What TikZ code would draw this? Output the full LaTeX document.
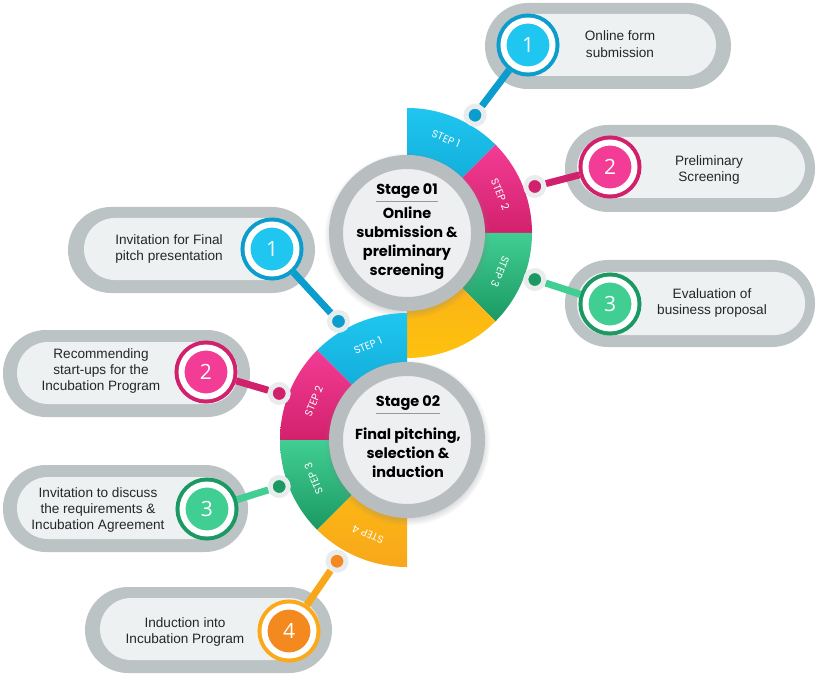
\documentclass[tikz,border=0pt]{standalone}
\usepackage{fontspec}
\setmainfont{Liberation Sans}
\newfontfamily\stagefont{Poppins}
\newfontfamily\numberfont{Open Sans}
\usetikzlibrary{calc}
\usetikzlibrary{shadows}
\usetikzlibrary{positioning}

\definecolor{cyanA}{HTML}{1FC6EF}
\definecolor{cyanB}{HTML}{0A9DCD}
\definecolor{pinkA}{HTML}{F33C95}
\definecolor{pinkB}{HTML}{D2216C}
\definecolor{greenA}{HTML}{41CE93}
\definecolor{greenB}{HTML}{1B9963}
\definecolor{yellowA}{HTML}{FEC20E}
\definecolor{yellowB}{HTML}{F8A71B}
\definecolor{orangeA}{HTML}{FBA91A}
\definecolor{orangeB}{HTML}{F4891F}
\definecolor{rimgray}{HTML}{BCC3C4}
\definecolor{facegray}{HTML}{EEF1F2}
\definecolor{discgray}{HTML}{EDEFF0}
\definecolor{ringgray}{HTML}{B8BEC0}
\definecolor{pinwhite}{HTML}{E9ECED}

\begin{document}
\begin{tikzpicture}[x=1pt,y=1pt,
    rim/.style={fill=rimgray,rounded corners=43pt},
    face/.style={fill=facegray,rounded corners=31pt},
    seg/.style 2 args={top color=#1,bottom color=#2},
    stagedisc/.style={circle,fill=discgray,draw=ringgray,line width=14pt,minimum size=142pt,inner sep=0pt,
      circular drop shadow={shadow scale=1.17,opacity=.45,shadow xshift=0pt,shadow yshift=-2pt}},
    stagehead/.style={font=\stagefont\bfseries\fontsize{14.5}{17}\selectfont,inner sep=0pt},
    stagebody/.style={font=\stagefont\bfseries\fontsize{14.5}{19}\selectfont,align=center,inner sep=0pt},
    headrule/.style={draw=gray!80,line width=0.8pt},
    steplbl/.style={font=\stagefont\fontsize{10.5}{12}\selectfont,text=white,inner sep=0pt},
    knob/.style={circle,fill=#1,draw=pinwhite,line width=5pt,minimum size=18pt,inner sep=0pt},
    badge/.style 2 args={circle,fill=#2,draw=white,line width=6pt,minimum size=49pt,inner sep=0pt,outer sep=7pt,
      preaction={draw=#1,line width=14pt},text=white,font=\numberfont\fontsize{21}{21}\selectfont},
    wire/.style={draw=#1,line width=7pt},
    steptext/.style={font=\fontsize{13.6}{16.3}\selectfont,align=center,text=black!85}]
  \useasboundingbox (0,0) rectangle (816,-676);
  \coordinate (s1) at (407,-233);
  \coordinate (s2) at (407,-440);

  % boxes of stage 01
  \fill[rim] (485,-3) rectangle (731,-89);
  \fill[face] (497,-14) rectangle (716,-76);
  \fill[rim] (565,-125) rectangle (815,-212);
  \fill[face] (577,-137) rectangle (805,-198);
  \fill[rim] (565,-260) rectangle (815,-347);
  \fill[face] (577,-272) rectangle (805,-335);

  % boxes of stage 02
  \fill[rim] (68,-207) rectangle (315,-293);
  \fill[face] (84,-218) rectangle (303,-280);
  \fill[rim] (3,-330) rectangle (250,-417);
  \fill[face] (17,-342) rectangle (238,-404);
  \fill[rim] (3,-465) rectangle (248,-552);
  \fill[face] (17,-477) rectangle (236,-539);
  \fill[rim] (85,-587) rectangle (332,-673);
  \fill[face] (100,-598) rectangle (320,-660);

  % ring of stage 01
  \path[seg={cyanA}{cyanB}] (s1) -- ++(90:125) arc[start angle=90,end angle=45,radius=125] -- cycle;
  \path[seg={pinkA}{pinkB}] (s1) -- ++(45:125) arc[start angle=45,end angle=0,radius=125] -- cycle;
  \path[seg={greenA}{greenB}] (s1) -- ++(0:125) arc[start angle=0,end angle=-45,radius=125] -- cycle;
  \path[seg={yellowB}{yellowA}] (s1) -- ++(-45:125) arc[start angle=-45,end angle=-90,radius=125] -- cycle;
  \node[steplbl,rotate=-22.5] (l11) at ([shift={(67.5:102)}]s1) {STEP 1};
  \node[steplbl,rotate=-67.5] (l12) at ([shift={(22.5:101)}]s1) {STEP 2};
  \node[steplbl,rotate=-112.5] (l13) at ([shift={(-22.5:101)}]s1) {STEP 3};
  \node[stagedisc] (c1) at (s1) {};
  \node[stagehead] (h1) at (407,-191) {Stage 01};
  \draw[headrule] ([yshift=-3pt]h1.south west) -- ([yshift=-3pt]h1.south east);
  \node[stagebody] (d1) at (407,-243) {Online\\submission \&\\preliminary\\screening};

  % ring of stage 02
  \path[seg={cyanA}{cyanB}] (s2) -- ++(90:127) arc[start angle=90,end angle=135,radius=127] -- cycle;
  \path[seg={pinkA}{pinkB}] (s2) -- ++(135:127) arc[start angle=135,end angle=180,radius=127] -- cycle;
  \path[seg={greenA}{greenB}] (s2) -- ++(180:127) arc[start angle=180,end angle=225,radius=127] -- cycle;
  \path[seg={yellowA}{yellowB}] (s2) -- ++(225:127) arc[start angle=225,end angle=270,radius=127] -- cycle;
  \node[steplbl,rotate=22.5] (l21) at ([shift={(112.5:102)}]s2) {STEP 1};
  \node[steplbl,rotate=67.5] (l22) at ([shift={(157.5:101)}]s2) {STEP 2};
  \node[steplbl,rotate=112.5] (l23) at ([shift={(202.5:101)}]s2) {STEP 3};
  \node[steplbl,rotate=157.5] (l24) at ([shift={(247.5:102)}]s2) {STEP 4};
  \node[stagedisc] (c2) at (s2) {};
  \node[stagehead] (h2) at (408,-403) {Stage 02};
  \draw[headrule] ([yshift=-3pt]h2.south west) -- ([yshift=-3pt]h2.south east);
  \node[stagebody] (d2) at (408,-453) {Final pitching,\\selection \&\\induction};

  % steps of stage 01
  \node[knob=cyanB] (p11) at ([shift={(60:136)}]s1) {};
  \node[knob=pinkB] (p12) at ([shift={(20:136)}]s1) {};
  \node[knob=greenB] (p13) at ([shift={(-20:136)}]s1) {};
  \node[badge={cyanB}{cyanA}] (b11) at (528,-45) {1};
  \node[badge={pinkB}{pinkA}] (b12) at (610,-167) {2};
  \node[badge={greenB}{greenA}] (b13) at (610,-304) {3};
  \draw[wire=cyanB] (p11) -- (b11);
  \draw[wire=pinkB] (p12) -- (b12);
  \draw[wire=greenA] (p13) -- (b13);
  \node[steptext] (t11) at (620,-44) {Online form\\submission};
  \node[steptext] (t12) at (709,-170) {Preliminary\\Screening};
  \node[steptext] (t13) at (712,-303) {Evaluation of\\business proposal};

  % steps of stage 02
  \node[knob=cyanB] (p21) at ([shift={(120:137)}]s2) {};
  \node[knob=pinkB] (p22) at ([shift={(160:136)}]s2) {};
  \node[knob=greenB] (p23) at ([shift={(200:136)}]s2) {};
  \node[knob=orangeB] (p24) at ([shift={(240:140)}]s2) {};
  \node[badge={cyanB}{cyanA}] (b21) at (272,-249) {1};
  \node[badge={pinkB}{pinkA}] (b22) at (206,-372) {2};
  \node[badge={greenB}{greenA}] (b23) at (207,-509) {3};
  \node[badge={orangeA}{orangeB}] (b24) at (289,-631) {4};
  \draw[wire=cyanB] (p21) -- (b21);
  \draw[wire=pinkB] (p22) -- (b22);
  \draw[wire=greenA] (p23) -- (b23);
  \draw[wire=yellowB] (p24) -- (b24);
  \node[steptext] (t21) at (169,-249) {Invitation for Final\\pitch presentation};
  \node[steptext] (t22) at (101,-371) {Recommending\\start-ups for the\\Incubation Program};
  \node[steptext] (t23) at (98,-510) {Invitation to discuss\\the requirements \&\\Incubation Agreement};
  \node[steptext] (t24) at (185,-632) {Induction into\\Incubation Program};
\end{tikzpicture}
\end{document}
